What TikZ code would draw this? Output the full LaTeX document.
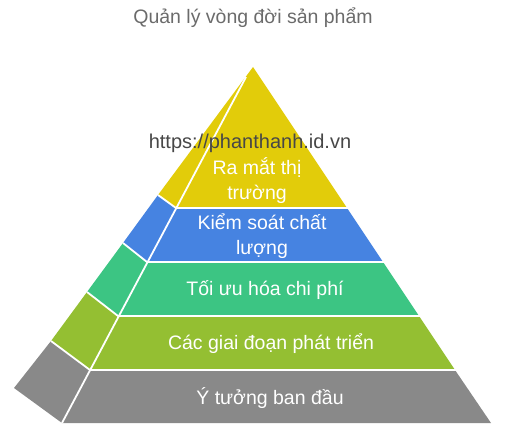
\documentclass[tikz,border=0pt]{standalone}
\usepackage{fontspec}
\setmainfont{Liberation Sans}
\usetikzlibrary{positioning,calc}

\definecolor{launchyellow}{HTML}{E2CC0A}
\definecolor{qualityblue}{HTML}{4683E1}
\definecolor{costgreen}{HTML}{3CC583}
\definecolor{phaselime}{HTML}{94BF32}
\definecolor{ideagray}{HTML}{898989}
\definecolor{titlegray}{HTML}{6B6B6B}
\definecolor{markgray}{HTML}{474747}

\begin{document}
\begin{tikzpicture}
    [x=1pt,y=-1pt,
     gap/.style={draw=white,line width=1.8pt},
     tier/.style={text=white,align=center,font=\fontsize{19.5}{25}\selectfont},
     caption/.style={text=titlegray,font=\fontsize{19.5}{22}\selectfont}]

    \useasboundingbox (0,0) rectangle (506,430);

    % corners of the pyramid
    \coordinate (apex) at (253,67);
    \coordinate (seamtop) at (246,77);
    \coordinate (r1) at (347,208);
    \coordinate (r2) at (383,262);
    \coordinate (r3) at (419,316);
    \coordinate (r4) at (455,370);
    \coordinate (r5) at (491,423);
    \coordinate (l1) at (176,208);
    \coordinate (l2) at (147,262);
    \coordinate (l3) at (118,316);
    \coordinate (l4) at (90,370);
    \coordinate (l5) at (62,423);
    \coordinate (o1) at (158,195);
    \coordinate (o2) at (123,243);
    \coordinate (o3) at (87,292);
    \coordinate (o4) at (51,341);
    \coordinate (o5) at (14,388);

    % tiers
    \fill[launchyellow] (apex) -- (r1) -- (l1) -- (o1) -- cycle;
    \fill[qualityblue] (l1) -- (r1) -- (r2) -- (l2) -- (o2) -- (o1) -- cycle;
    \fill[costgreen] (l2) -- (r2) -- (r3) -- (l3) -- (o3) -- (o2) -- cycle;
    \fill[phaselime] (l3) -- (r3) -- (r4) -- (l4) -- (o4) -- (o3) -- cycle;
    \fill[ideagray] (l4) -- (r4) -- (r5) -- (l5) -- (o5) -- (o4) -- cycle;

    % white seams
    \foreach \i in {1,...,4}
      \draw[gap] (o\i) -- (l\i) -- ($(r\i)+(2,0)$);
    \draw[gap] (seamtop) -- (l5);

    \node[caption] (title) at (253,18) {Quản lý vòng đời sản phẩm};

    \node[tier] (launch) at (257,181) {Ra mắt thị\\trường};
    \node[tier] (quality) at (262,236) {Kiểm soát chất\\lượng};
    \node[tier] (cost) at (265,290) {Tối ưu hóa chi phí};
    \node[tier] (phases) at (271,344) {Các giai đoạn phát triển};
    \node[tier] (idea) at (270,398) {Ý tưởng ban đầu};

    \node[text=markgray,font=\fontsize{20}{22}\selectfont] (mark) at (250,143) {https://phanthanh.id.vn};
\end{tikzpicture}
\end{document}
